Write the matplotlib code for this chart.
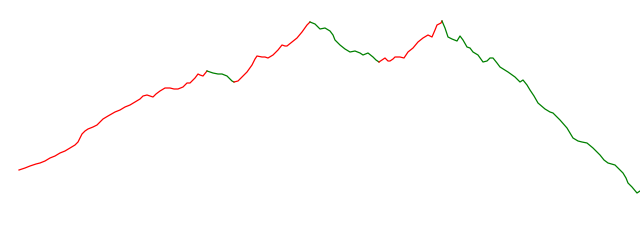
import matplotlib
matplotlib.use('Agg')
import matplotlib.pyplot as plt
import numpy as np

# price path (x position, level)
x = [19, 25, 30, 36, 40, 45, 50, 55, 60, 65, 70, 75, 78, 80, 82, 85, 88, 93, 97,
     100, 103, 108, 115, 120, 125, 130, 135, 140, 143, 147, 150, 153, 156, 160,
     165, 170, 174, 178, 183, 187, 190, 193, 195, 198, 200, 203, 207,
     213, 218, 222, 227, 230, 232, 234,
     238, 242, 247, 252, 255, 257, 262, 265, 268, 273, 278, 282, 285, 287, 292,
     297, 302, 307, 310,
     315, 318, 320, 325, 330, 333, 335, 340, 345, 350, 355, 360, 363, 368, 373,
     376, 379,
     382, 385, 388, 390, 393, 395, 400, 404, 408, 413, 418, 423, 428, 432, 435,
     437, 441, 442,
     445, 448, 452, 457, 460, 463, 467, 470, 473, 478, 483, 487, 490, 493, 497,
     500, 508, 515, 520, 523, 527, 530, 534, 538, 545, 550, 553, 556, 560, 567,
     573, 578, 582, 587, 593, 600, 604, 608, 615, 619, 623, 626, 628, 632, 637,
     640]
y_px = [170, 168, 166, 164, 163, 161, 158, 156, 153, 151, 148, 145, 142, 138, 134,
        131, 129, 127, 125, 122, 119, 116, 112, 110, 107, 105, 102, 99, 96, 95,
        96, 97, 94, 91, 88, 88, 89, 89, 87, 83, 83, 80, 78, 74, 75, 76, 71,
        73, 74, 74, 76, 79, 81, 82,
        81, 77, 72, 65, 59, 56, 57, 57, 58, 55, 50, 45, 46, 46, 42, 38, 32, 25, 22,
        24, 27, 29, 28, 31, 35, 40, 45, 49, 52, 51, 53, 55, 53, 57, 60, 62,
        60, 58, 61, 61, 59, 57, 57, 58, 52, 48, 42, 38, 35, 37, 30, 25, 23, 21,
        28, 37, 39, 41, 36, 40, 47, 48, 52, 55, 62, 61, 58, 58, 63,
        67, 72, 77, 82, 80, 85, 90, 96, 103, 109, 112, 113, 116, 120, 128,
        138, 141, 142, 143, 148, 155, 160, 163, 165, 169, 173, 178, 183, 187, 193,
        191]
level = [240 - v for v in y_px]

# x positions where the trend flips (starts as up)
turns = [207, 234, 310, 379, 442]
colors = ['red', 'green']

fig = plt.figure(figsize=(6.4, 2.4), dpi=100)
ax = fig.add_axes([0, 0, 1, 1])

x = np.array(x)
level = np.array(level)
bounds = [x[0]] + turns + [x[-1]]
for i in range(len(bounds) - 1):
    m = (x >= bounds[i]) & (x <= bounds[i + 1])
    ax.plot(x[m], level[m], color=colors[i % 2], lw=0.9)

ax.set_xlim(0, 640)
ax.set_ylim(0, 240)
ax.axis('off')

fig.savefig('out.png', dpi=100)
